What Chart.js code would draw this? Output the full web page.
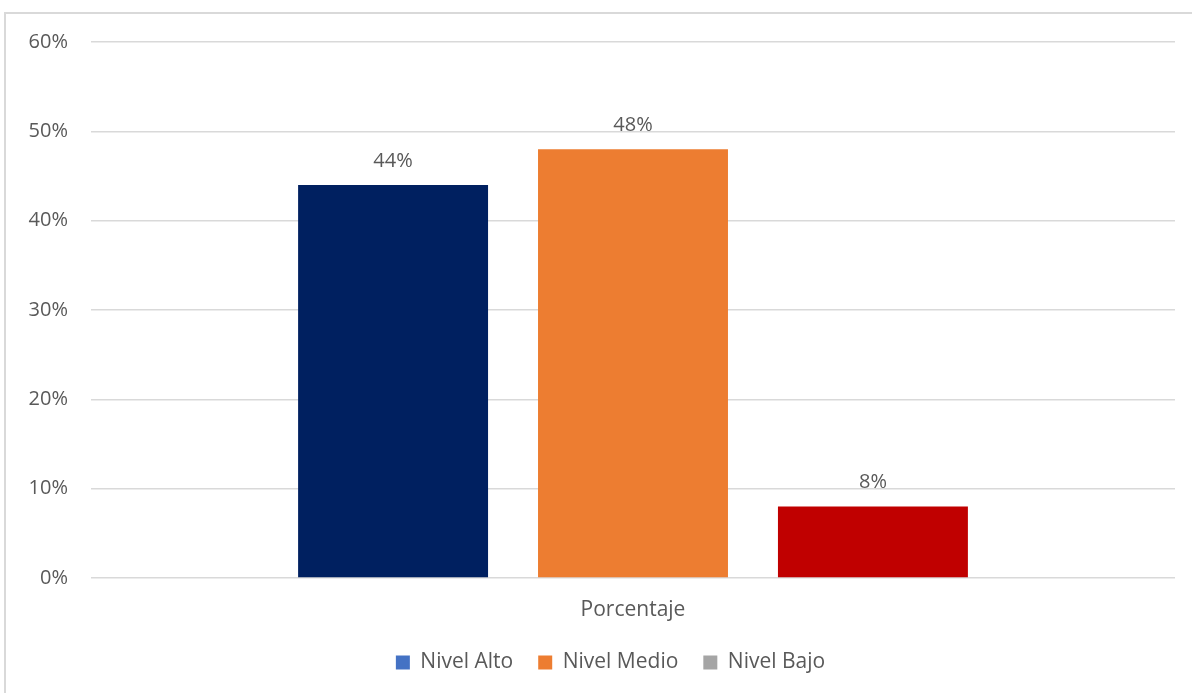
<!DOCTYPE html>
<html><head><meta charset="utf-8">
<script src="https://cdn.jsdelivr.net/npm/chart.js@4"></script>
<style>
html,body{margin:0;padding:0;background:#fff;overflow:hidden}
#frame{position:absolute;left:4px;top:12px;width:1200px;height:700px;border-left:2px solid #d9d9d9;border-top:2px solid #d9d9d9;box-sizing:border-box}
#wrap{position:absolute;left:0;top:0;width:1192px;height:693px}
</style></head>
<body>
<div id="frame"></div>
<div id="wrap"><canvas id="c" width="1192" height="693"></canvas></div>
<script>
const categories = ["Porcentaje"];
const seriesNames = ["Nivel Alto", "Nivel Medio", "Nivel Bajo"];
const seriesValues = [44, 48, 8];
const barColors = ["#002060", "#ED7D31", "#C00000"];
const legendColors = ["#4472C4", "#ED7D31", "#A5A5A5"];
const yTicks = [0, 10, 20, 30, 40, 50, 60];

const FONT = "'Open Sans', 'Liberation Sans', sans-serif";
const TXT = "#595959";

const labelPlugin = {
  id: 'vals',
  afterDatasetsDraw(chart) {
    const ctx = chart.ctx;
    ctx.save();
    ctx.fillStyle = TXT;
    ctx.font = "20px 'Liberation Sans Narrow', 'Open Sans', sans-serif";
    ctx.textAlign = 'center';
    ctx.textBaseline = 'bottom';
    chart.data.datasets.forEach((ds, i) => {
      chart.getDatasetMeta(i).data.forEach((bar, j) => {
        ctx.fillText(ds.data[j] + '%', bar.x, bar.y - 14);
      });
    });
    ctx.restore();
  }
};

// the reference frame is wider than the visible image, so its legend sits right of the canvas centre
const legendShift = {
  id: 'legendShift',
  beforeDraw(chart) {
    if (chart.legend && !chart.legend._shifted) {
      chart.legend.left += 23;
      chart.legend.right += 23;
      chart.legend._shifted = true;
    }
  }
};

new Chart(document.getElementById('c'), {
  type: 'bar',
  data: {
    labels: categories,
    datasets: seriesNames.map((n, i) => ({
      label: n,
      data: [seriesValues[i]],
      backgroundColor: barColors[i],
      categoryPercentage: 0.664,
      barPercentage: 0.7917
    }))
  },
  options: {
    responsive: false,
    animation: false,
    layout: { padding: { top: 42, right: 17, left: 0, bottom: 10 } },
    plugins: {
      tooltip: { enabled: false },
      legend: {
        position: 'bottom',
        labels: {
          color: TXT,
          font: { family: FONT, size: 21 },
          boxWidth: 14, boxHeight: 14,
          padding: 25,
          generateLabels(chart) {
            return seriesNames.map((n, i) => ({
              text: n, fillStyle: legendColors[i], strokeStyle: legendColors[i],
              lineWidth: 0, fontColor: TXT, datasetIndex: i, hidden: false
            }));
          }
        }
      }
    },
    scales: {
      x: {
        grid: { display: false, drawTicks: false },
        border: { display: false },
        ticks: { color: TXT, font: { family: FONT, size: 21 }, padding: 19 },
        afterFit(s) { s.height = 49; }
      },
      y: {
        min: 0, max: 60,
        afterBuildTicks(s) { s.ticks = yTicks.map(v => ({ value: v })); },
        grid: { color: '#d9d9d9', lineWidth: 1.5, drawTicks: false },
        border: { display: false },
        ticks: { color: TXT, font: { family: FONT, size: 20 }, padding: 23, callback: v => v + '%' },
        afterFit(s) { s.width = 91; }
      }
    }
  },
  plugins: [labelPlugin, legendShift]
});
</script>
</body></html>
